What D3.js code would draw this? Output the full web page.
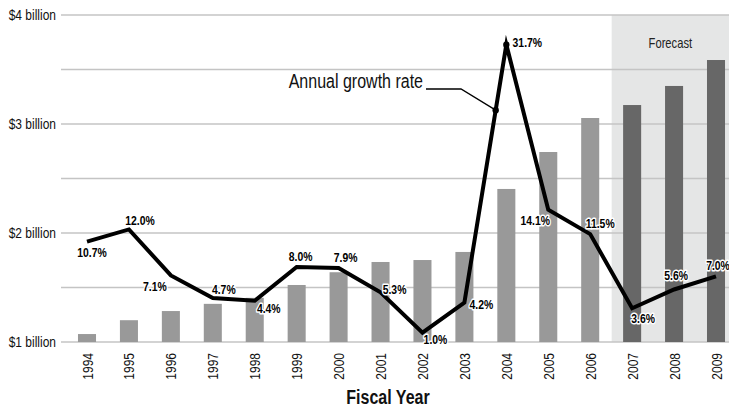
<!DOCTYPE html>
<html><head><meta charset="utf-8">
<script src="https://cdn.jsdelivr.net/npm/d3@7"></script>
<style>
body{margin:0;background:#fff;}
svg{display:block;font-family:"Liberation Sans",Arial,sans-serif;}
</style></head><body>
<svg id="c" width="729" height="409"></svg>
<script>
const years = ["1994","1995","1996","1997","1998","1999","2000","2001","2002","2003","2004","2005","2006","2007","2008","2009"];
const revenue = [1.073,1.20,1.284,1.35,1.405,1.523,1.64,1.734,1.752,1.826,2.404,2.743,3.055,3.174,3.349,3.587];
const growth = [10.7,12.0,7.1,4.7,4.4,8.0,7.9,5.3,1.0,4.2,31.7,14.1,11.5,3.6,5.6,7.0];
const forecastYears = ["2007","2008","2009"];
const yTicks = [1,1.5,2,2.5,3,3.5,4];
const yTickLabels = ["$1 billion","","$2 billion","","$3 billion","","$4 billion"];
// label offsets (dx, dy) relative to each point
const labelOffsets = [[5,11],[11,-9],[-16,11],[11,-8],[14,8],[4,-10],[7,-10],[14,-3],[13,7],[17,2],[21,-2],[-13,11],[10,-11],[11,10],[2,-14],[2,-11]];

const SX = 0.8; // condensed look
const svg = d3.select("#c");
const x = d3.scalePoint().domain(years).range([87,716]);
const barW = x.step()*0.43;
const y = d3.scaleLinear().domain([1,4]).range([342,15]);
const g = d3.scaleLinear().domain([0,35]).range([342,13.7]);

function ctext(sel, fx, fy, rot) {
  return sel.attr("x",0).attr("y",0)
    .attr("transform",(d,i)=>`translate(${fx(d,i)},${fy(d,i)})${rot?` rotate(${rot})`:""} scale(${SX},1)`);
}

// forecast shade
const fx0 = x(forecastYears[0]) - x.step()/2 + 0.5;
svg.append("rect").attr("x",fx0).attr("y",y(4)).attr("width",729-fx0).attr("height",y(1)-y(4)).attr("fill","#e5e6e6");
ctext(svg.append("text").datum(0),()=> (fx0+729)/2,()=>48).attr("text-anchor","middle").attr("font-size",14).attr("fill","#222").text("Forecast");

// gridlines
svg.append("g").selectAll("line").data(yTicks).join("line")
  .attr("x1",61).attr("x2",729).attr("y1",d=>y(d)).attr("y2",d=>y(d))
  .attr("stroke","#c4c4c4").attr("stroke-width",1.3);
ctext(svg.append("g").selectAll("text").data(yTicks).join("text"), ()=>56, d=>y(d)+5)
  .attr("text-anchor","end").attr("font-size",15).attr("fill","#111")
  .text((d,i)=>yTickLabels[i]);

// bars
svg.append("g").selectAll("rect").data(years).join("rect")
  .attr("x",d=>x(d)-barW/2).attr("width",barW)
  .attr("y",(d,i)=>y(revenue[i])).attr("height",(d,i)=>y(1)-y(revenue[i]))
  .attr("fill",d=>forecastYears.includes(d)?"#676767":"#999999");

// x tick labels
ctext(svg.append("g").selectAll("text").data(years).join("text"), d=>x(d)+5.5, ()=>353, -90)
  .attr("text-anchor","end").attr("font-size",15).attr("fill","#111").text(d=>d);
ctext(svg.append("text").datum(0),()=>388,()=>404).attr("text-anchor","middle").attr("font-size",20).attr("font-weight","bold").attr("fill","#111").text("Fiscal Year");

// growth line
const pts = years.map((d,i)=>[x(d),g(growth[i])]);
svg.append("path").attr("d",d3.line()(pts)).attr("fill","none").attr("stroke","#000").attr("stroke-width",4).attr("stroke-linejoin","miter").attr("stroke-miterlimit",10);

// callout
const i3 = years.indexOf("2003"), i4 = years.indexOf("2004");
const t = 0.746;
const dot = [pts[i3][0]+t*(pts[i4][0]-pts[i3][0]), pts[i3][1]+t*(pts[i4][1]-pts[i3][1])];
svg.append("path").attr("d",`M426,89 L461,89 L${dot[0]},${dot[1]}`).attr("fill","none").attr("stroke","#000").attr("stroke-width",1.3);
svg.append("circle").attr("cx",dot[0]).attr("cy",dot[1]).attr("r",3.2).attr("fill","#000");
svg.append("circle").attr("cx",pts[i4][0]).attr("cy",pts[i4][1]).attr("r",3.2).attr("fill","#000");
ctext(svg.append("text").datum(0),()=>423,()=>88).attr("text-anchor","end").attr("font-size",20).attr("fill","#111").text("Annual growth rate");

// labels
ctext(svg.append("g").selectAll("text").data(growth).join("text"),
  (d,i)=>pts[i][0]+labelOffsets[i][0], (d,i)=>pts[i][1]+labelOffsets[i][1]+4.5)
  .attr("text-anchor","middle").attr("font-size",13).attr("font-weight","bold")
  .attr("stroke","#fff").attr("stroke-width",3).attr("paint-order","stroke").attr("stroke-linejoin","round")
  .attr("fill","#000").text(d=>d.toFixed(1)+"%");
</script></body></html>
